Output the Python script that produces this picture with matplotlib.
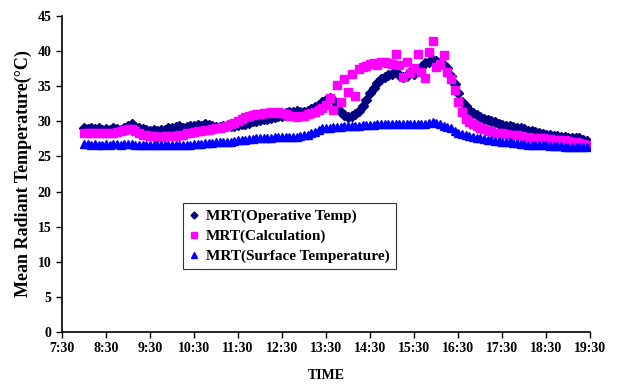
import numpy as np
import matplotlib
matplotlib.use('Agg')
import matplotlib.pyplot as plt

plt.rcParams['font.family'] = ['Liberation Serif', 'DejaVu Serif']
plt.rcParams['font.weight'] = 'bold'

# samples every 5 minutes, 8:00 -> 19:25
minutes = np.arange(8 * 60, 19 * 60 + 26, 5)
hours = minutes / 60.0

# MRT (operative temp), one row per hour
mrt_operative = [
    29.0, 28.9, 29.1, 28.9, 29.0, 28.8, 28.9, 28.8, 29.0, 28.9, 28.8, 29.0,
    29.3, 29.6, 29.2, 29.0, 28.9, 28.8, 28.7, 28.8, 28.7, 28.8, 28.8, 29.0,
    29.1, 29.2, 29.3, 29.1, 29.2, 29.4, 29.3, 29.5, 29.4, 29.6, 29.5, 29.4,
    29.2, 29.2, 29.3, 29.3, 29.4, 29.4, 29.5, 29.6, 29.7, 29.8, 30.0, 30.1,
    30.2, 30.3, 30.4, 30.5, 30.6, 30.7, 30.8, 31.2, 31.4, 31.3, 31.5, 31.3,
    31.3, 31.5, 31.8, 32.0, 32.4, 32.8, 33.1, 33.4, 33.0, 32.2, 31.4, 30.9,
    30.6, 30.8, 31.0, 31.5, 32.2, 33.0, 34.0, 34.8, 35.5, 36.0, 36.4, 36.6,
    36.8, 37.0, 36.6, 36.3, 36.5, 37.0, 36.8, 37.3, 37.8, 38.3, 38.5, 38.7,
    38.6, 38.3, 38.0, 37.6, 36.5, 35.3, 34.0, 32.8, 32.2, 31.6, 31.2, 30.9,
    30.6, 30.4, 30.2, 30.0, 29.9, 29.7, 29.5, 29.4, 29.3, 29.2, 29.1, 29.0,
    28.9, 28.7, 28.6, 28.5, 28.3, 28.2, 28.1, 28.0, 27.9, 27.9, 27.8, 27.8,
    27.7, 27.7, 27.6, 27.6, 27.4, 27.2,
]

# MRT (calculation)
mrt_calc = [
    28.3, 28.3, 28.4, 28.3, 28.3, 28.4, 28.3, 28.3, 28.4, 28.5, 28.6, 28.8,
    28.9, 28.9, 28.7, 28.4, 28.1, 28.0, 27.9, 27.9, 27.8, 27.8, 27.9, 27.9,
    27.9, 27.9, 28.0, 28.1, 28.3, 28.4, 28.5, 28.6, 28.7, 28.8, 28.8, 28.9,
    29.0, 29.1, 29.2, 29.4, 29.6, 29.8, 30.0, 30.3, 30.6, 30.8, 30.9, 31.0,
    31.1, 31.2, 31.2, 31.3, 31.2, 31.3, 31.2, 31.0, 30.8, 30.7, 30.6, 30.7,
    30.8, 31.0, 31.2, 31.4, 31.6, 31.9, 32.3, 33.4, 31.6, 35.2, 32.8, 36.0,
    34.2, 36.8, 33.6, 37.4, 37.7, 37.9, 38.2, 38.3, 38.1, 38.5, 38.4, 38.3,
    38.2, 39.6, 38.0, 36.3, 38.4, 36.9, 37.6, 39.6, 37.0, 36.2, 39.9, 41.5,
    37.8, 38.2, 39.5, 37.0, 36.0, 34.5, 32.8, 31.4, 30.4, 29.9, 29.6, 29.3,
    29.1, 28.9, 28.7, 28.6, 28.4, 28.3, 28.3, 28.2, 28.1, 28.0, 28.0, 27.9,
    27.8, 27.8, 27.7, 27.7, 27.6, 27.6, 27.5, 27.5, 27.4, 27.4, 27.3, 27.3,
    27.2, 27.1, 27.0, 26.9, 26.8, 26.7,
]

# MRT (surface temperature)
mrt_surface = [
    26.8, 26.8, 26.7, 26.8, 26.7, 26.7, 26.8, 26.7, 26.8, 26.8, 26.7, 26.8,
    26.8, 26.8, 26.7, 26.7, 26.7, 26.6, 26.6, 26.6, 26.6, 26.6, 26.6, 26.6,
    26.6, 26.6, 26.7, 26.7, 26.7, 26.7, 26.8, 26.8, 26.8, 26.9, 26.9, 26.9,
    27.0, 27.0, 27.0, 27.1, 27.1, 27.2, 27.3, 27.3, 27.4, 27.5, 27.5, 27.6,
    27.6, 27.7, 27.7, 27.7, 27.8, 27.8, 27.8, 27.8, 27.8, 27.8, 27.8, 27.9,
    28.0, 28.1, 28.3, 28.5, 28.8, 29.0, 29.1, 29.1, 29.2, 29.2, 29.2, 29.3,
    29.3, 29.3, 29.4, 29.4, 29.5, 29.5, 29.5, 29.5, 29.6, 29.6, 29.6, 29.6,
    29.6, 29.6, 29.7, 29.6, 29.6, 29.7, 29.7, 29.7, 29.6, 29.7, 29.8, 29.9,
    29.8, 29.6, 29.4, 29.2, 29.0, 28.7, 28.4, 28.2, 28.0, 27.9, 27.8, 27.7,
    27.6, 27.5, 27.4, 27.3, 27.2, 27.2, 27.1, 27.0, 27.0, 26.9, 26.9, 26.8,
    26.8, 26.7, 26.7, 26.7, 26.6, 26.6, 26.6, 26.5, 26.5, 26.5, 26.5, 26.4,
    26.4, 26.4, 26.4, 26.3, 26.3, 26.3,
]

tick_hours = [7.5 + i for i in range(13)]
tick_labels = ['7:30', '8:30', '9:30', '10:30', '11:30', '12:30', '13:30',
               '14:30', '15:30', '16:30', '17:30', '18:30', '19:30']

fig = plt.figure(figsize=(6.2, 3.85), dpi=100)
ax = fig.add_axes([0.1, 0.138, 0.852, 0.82])

ax.plot(hours, mrt_operative, linestyle='none', marker='D', markersize=5,
        color='#000080', label='MRT(Operative Temp)')
ax.plot(hours, mrt_calc, linestyle='none', marker='s', markersize=6,
        color='#ff00ff', label='MRT(Calculation)')
ax.plot(hours, mrt_surface, linestyle='none', marker='^', markersize=6,
        color='#0000ff', label='MRT(Surface Temperature)')

ax.set_xlim(7.5, 19.5)
ax.set_ylim(0, 45)
ax.set_xticks(tick_hours)
ax.set_xticklabels(tick_labels)
ax.set_yticks(range(0, 46, 5))
ax.tick_params(direction='out', length=4, width=1, labelsize=10)
for lab in ax.get_xticklabels() + ax.get_yticklabels():
    lab.set_fontweight('bold')

for side in ['top', 'right']:
    ax.spines[side].set_visible(False)
for side in ['left', 'bottom']:
    ax.spines[side].set_linewidth(1.2)

ax.set_xlabel('TIME', fontsize=10, fontweight='bold', labelpad=10)
ax.set_ylabel('Mean Radiant Temperature(\u00b0C)', fontsize=13, fontweight='bold')

leg = ax.legend(loc='upper left', bbox_to_anchor=(0.283, 0.492),
                bbox_transform=fig.transFigure, frameon=True, fancybox=False,
                edgecolor='black', borderpad=0.4, handlelength=0.6,
                handletextpad=0.5, labelspacing=0.4, markerscale=0.7,
                prop={'size': 11, 'weight': 'bold'})
leg.get_frame().set_linewidth(0.8)

plt.savefig('out.png', dpi=100)
